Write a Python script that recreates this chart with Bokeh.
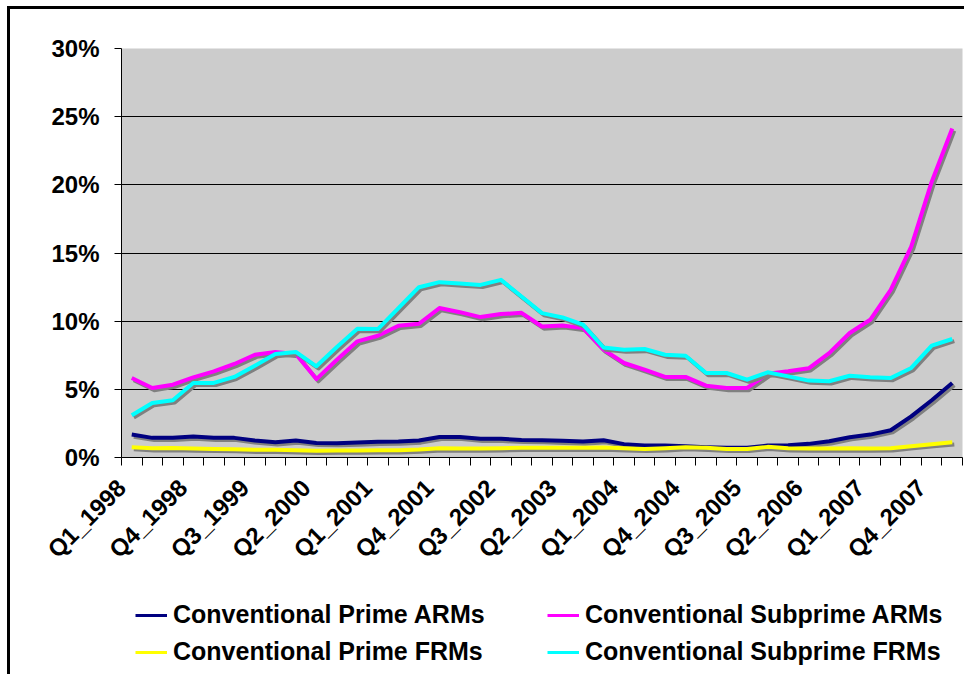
import numpy as np
from bokeh.plotting import figure
from bokeh.layouts import column
from bokeh.models import (ColumnDataSource, FixedTicker, PrintfTickFormatter,
                          Legend, LegendItem, Range1d)
from bokeh.transform import dodge
from bokeh.embed import file_html
from bokeh.resources import INLINE

quarters = ["Q1_1998", "Q2_1998", "Q3_1998", "Q4_1998",
            "Q1_1999", "Q2_1999", "Q3_1999", "Q4_1999",
            "Q1_2000", "Q2_2000", "Q3_2000", "Q4_2000",
            "Q1_2001", "Q2_2001", "Q3_2001", "Q4_2001",
            "Q1_2002", "Q2_2002", "Q3_2002", "Q4_2002",
            "Q1_2003", "Q2_2003", "Q3_2003", "Q4_2003",
            "Q1_2004", "Q2_2004", "Q3_2004", "Q4_2004",
            "Q1_2005", "Q2_2005", "Q3_2005", "Q4_2005",
            "Q1_2006", "Q2_2006", "Q3_2006", "Q4_2006",
            "Q1_2007", "Q2_2007", "Q3_2007", "Q4_2007",
            "Q1_2008"]

prime_arms = [1.68, 1.44, 1.44, 1.54, 1.44, 1.44, 1.24, 1.12, 1.24, 1.07,
              1.05, 1.10, 1.15, 1.17, 1.25, 1.51, 1.51, 1.37, 1.37, 1.29,
              1.27, 1.22, 1.17, 1.27, 0.98, 0.88, 0.88, 0.83, 0.76, 0.71,
              0.71, 0.88, 0.90, 1.00, 1.19, 1.49, 1.68, 2.00, 3.02, 4.20,
              5.47]
subprime_arms = [5.83, 5.10, 5.34, 5.88, 6.32, 6.86, 7.54, 7.74, 7.59, 5.75,
                 7.17, 8.52, 8.93, 9.66, 9.81, 10.96, 10.66, 10.30, 10.52, 10.61,
                 9.61, 9.69, 9.49, 7.91, 6.93, 6.44, 5.91, 5.91, 5.27, 5.10,
                 5.10, 6.15, 6.32, 6.54, 7.66, 9.13, 10.10, 12.30, 15.47, 20.23,
                 24.13]
prime_frms = [0.76, 0.68, 0.70, 0.66, 0.63, 0.61, 0.56, 0.56, 0.53, 0.49,
              0.51, 0.51, 0.53, 0.53, 0.58, 0.68, 0.66, 0.66, 0.68, 0.71,
              0.71, 0.71, 0.71, 0.73, 0.68, 0.63, 0.68, 0.76, 0.71, 0.63,
              0.63, 0.78, 0.68, 0.66, 0.66, 0.68, 0.66, 0.68, 0.83, 0.98,
              1.12]
subprime_frms = [3.10, 4.00, 4.20, 5.47, 5.47, 5.91, 6.73, 7.59, 7.74, 6.69,
                 8.10, 9.44, 9.42, 10.96, 12.49, 12.86, 12.76, 12.66, 13.03, 11.81,
                 10.59, 10.27, 9.74, 8.07, 7.91, 7.96, 7.54, 7.47, 6.20, 6.20,
                 5.71, 6.25, 5.95, 5.64, 5.59, 6.00, 5.88, 5.83, 6.57, 8.20,
                 8.69]

series_names = ["Conventional Prime ARMs", "Conventional Subprime ARMs",
                "Conventional Prime FRMs", "Conventional Subprime FRMs"]
series_values = [prime_arms, subprime_arms, prime_frms, subprime_frms]
series_colors = ["#000080", "#FF00FF", "#FFFF00", "#00FFFF"]

y_ticks = [0, 5, 10, 15, 20, 25, 30]
label_step = 3

FONT = "Liberation Sans"
n = len(quarters)
# each quarter occupies 2 units: boundaries at even numbers, centres at odd
xpos = 2 * np.arange(n) + 1

W = 954
p = figure(width=W, height=566, output_backend="svg", toolbar_location=None,
           x_range=Range1d(0, 2 * n), y_range=Range1d(0, 30),
           min_border_left=111, min_border_right=2, min_border_top=39,
           min_border_bottom=117)
p.background_fill_color = "#CCCCCC"
p.border_fill_color = "white"
p.outline_line_color = None

sources = []
for name, vals, col in zip(series_names, series_values, series_colors):
    src = ColumnDataSource(dict(x=xpos, y=vals))
    sources.append(src)
    p.line(x=dodge("x", 0.2, range=p.x_range), y=dodge("y", -0.16, range=p.y_range),
           source=src, line_color="#808080", line_width=4, line_join="round")
    p.line(x="x", y="y", source=src, line_color=col, line_width=4,
           line_join="round")

# x axis: tick marks between quarters, a label every third quarter
xa = p.xaxis[0]
label_idx = list(range(0, n, label_step))
xa.ticker = FixedTicker(ticks=[2 * i for i in label_idx],
                        minor_ticks=[2 * i for i in range(n + 1)])
xa.major_label_overrides = {2 * i: quarters[i] for i in label_idx}
xa.major_tick_in = 0
xa.major_tick_out = 8
xa.major_tick_line_color = None
xa.minor_tick_in = 0
xa.minor_tick_out = 8
xa.minor_tick_line_color = "black"
xa.axis_line_color = "black"
xa.major_label_orientation = np.pi / 4
xa.major_label_text_font = FONT
xa.major_label_text_font_style = "bold"
xa.major_label_text_font_size = "24px"
xa.major_label_text_color = "black"
xa.major_label_standoff = 18

# y axis
ya = p.yaxis[0]
ya.ticker = FixedTicker(ticks=y_ticks)
ya.formatter = PrintfTickFormatter(format="%d%%")
ya.major_tick_in = 0
ya.major_tick_out = 7
ya.minor_tick_line_color = None
ya.axis_line_color = "black"
ya.major_tick_line_color = "black"
ya.major_label_text_font = FONT
ya.major_label_text_font_style = "bold"
ya.major_label_text_font_size = "24px"
ya.major_label_text_color = "black"
ya.major_label_standoff = 15

p.xgrid.grid_line_color = None
p.ygrid.grid_line_color = "black"
p.ygrid.grid_line_width = 1
p.ygrid.ticker = FixedTicker(ticks=y_ticks)

# legend strip (its frame is aligned with the chart frame by the column layout);
# the series are drawn here outside the visible y range, only their legend shows
q = figure(width=W, height=99, output_backend="svg", toolbar_location=None,
           x_axis_type=None, y_axis_type=None, min_border=0,
           x_range=Range1d(0, 2 * n), y_range=Range1d(-100, -99))
q.outline_line_color = None
q.background_fill_color = "white"
q.border_fill_color = "white"
q.xgrid.visible = False
q.ygrid.visible = False
swatches = [q.line(x="x", y="y", source=s, line_color=c, line_width=3)
            for s, c in zip(sources, series_colors)]

def make_legend(idx, loc):
    items = [LegendItem(label=series_names[i], renderers=[swatches[i]]) for i in idx]
    return Legend(items=items, location=loc, orientation="vertical",
                  label_text_font=FONT, label_text_font_style="bold",
                  label_text_font_size="25px", label_text_color="black",
                  glyph_width=32, glyph_height=20, label_standoff=6,
                  spacing=8, padding=0, margin=0,
                  border_line_color=None, background_fill_alpha=0)

q.add_layout(make_legend([0, 2], (14, 8)))
q.add_layout(make_legend([1, 3], (426, 8)))

layout = column(p, q, spacing=0,
                styles={"margin-left": "7px", "margin-top": "6px",
                        "border-left": "3px solid black",
                        "border-top": "3px solid black"})

open("out.html", "w").write(file_html(layout, INLINE))
